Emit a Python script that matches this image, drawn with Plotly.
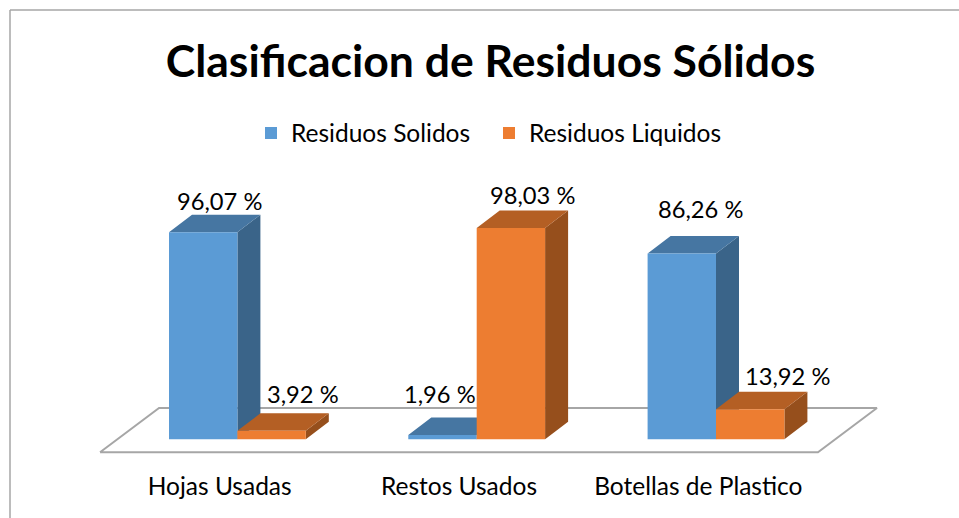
import plotly.graph_objects as go

categories = ["Hojas Usadas", "Restos Usados", "Botellas de Plastico"]
residuos_solidos = [96.07, 1.96, 86.26]
residuos_liquidos = [3.92, 98.03, 13.92]

BLUE, BLUE_TOP, BLUE_SIDE = "#5B9BD5", "#4676A2", "#3A6489"
ORANGE, ORANGE_TOP, ORANGE_SIDE = "#ED7D31", "#B45F24", "#964F1C"
GRID = "#A6A6A6"
FONT = "Lato"

W, H = 959, 518
L, R, T, B = 90, 890, 180, 460
PX_PER_CAT, PX_PER_PCT = 239.3, 2.155
C0_PX, V0_PX = 237.4, 439.3
xr = [(L - C0_PX) / PX_PER_CAT, (R - C0_PX) / PX_PER_CAT]
yr = [(V0_PX - B) / PX_PER_PCT, (V0_PX - T) / PX_PER_PCT]

BAR_W = 68.4 / PX_PER_CAT
DX, DY = 23 / PX_PER_CAT, 17.5 / PX_PER_PCT
LABEL_SHIFT = -17.7 / PX_PER_CAT
xs = list(range(len(categories)))


def box_faces(x_left, x_right, vals):
    side_x, side_y, top_x, top_y = [], [], [], []
    for a, b, v in zip(x_left, x_right, vals):
        side_x += [b, b + DX, b + DX, b, b, None]
        side_y += [v, v + DY, DY, 0, v, None]
        top_x += [a, a + DX, b + DX, b, a, None]
        top_y += [v, v + DY, v + DY, v, v, None]
    return side_x, side_y, top_x, top_y


def face(x, y, color):
    return go.Scatter(x=x, y=y, mode="lines", fill="toself", fillcolor=color,
                      line=dict(width=0, color=color), hoverinfo="skip",
                      showlegend=False, xaxis="x", yaxis="y")


fig = go.Figure()

# floor
fl_left = xs[0] - 0.5 + LABEL_SHIFT
fl_right = xs[-1] + 0.5 + LABEL_SHIFT
fl_dx, fl_back, fl_front = 59 / PX_PER_CAT, 14.5, -6.0
fig.add_trace(go.Scatter(
    x=[fl_left, fl_right, fl_right + fl_dx, fl_left + fl_dx, fl_left],
    y=[fl_front, fl_front, fl_back, fl_back, fl_front],
    mode="lines", line=dict(color=GRID, width=2), hoverinfo="skip",
    showlegend=False, xaxis="x", yaxis="y"))

bx0 = [x - BAR_W for x in xs]
bx1 = list(xs)
ox0 = list(xs)
ox1 = [x + BAR_W for x in xs]
sx, sy, tx, ty = box_faces(bx0, bx1, residuos_solidos)
fig.add_trace(face(sx, sy, BLUE_SIDE))
fig.add_trace(face(tx, ty, BLUE_TOP))
sx, sy, tx, ty = box_faces(ox0, ox1, residuos_liquidos)
fig.add_trace(face(sx, sy, ORANGE_SIDE))
fig.add_trace(face(tx, ty, ORANGE_TOP))

# front faces
fig.add_trace(go.Bar(name="Residuos Solidos", x=xs, y=residuos_solidos,
                     marker=dict(color=BLUE, line=dict(width=0)),
                     xaxis="x2", yaxis="y2"))
fig.add_trace(go.Bar(name="Residuos Liquidos", x=xs, y=residuos_liquidos,
                     marker=dict(color=ORANGE, line=dict(width=0)),
                     xaxis="x2", yaxis="y2"))

# data labels
label_dx_blue = [5, -14, 7]
label_dy_blue = [31, 41, 44]
label_dx_or = [20, 10, 26]
label_dy_or = [37, 33, 33]
ann = []


def fmt(v):
    return f"{v:.2f}".replace(".", ",") + " %"


for i, x in enumerate(xs):
    ann.append(dict(x=x - BAR_W / 2 + DX / 2, y=residuos_solidos[i], text=fmt(residuos_solidos[i]),
                    xref="x", yref="y", showarrow=False, xanchor="center", yanchor="middle",
                    xshift=label_dx_blue[i], yshift=label_dy_blue[i],
                    font=dict(family=FONT, size=23.7, color="#000000")))
    ann.append(dict(x=x + BAR_W / 2 + DX / 2, y=residuos_liquidos[i], text=fmt(residuos_liquidos[i]),
                    xref="x", yref="y", showarrow=False, xanchor="center", yanchor="middle",
                    xshift=label_dx_or[i], yshift=label_dy_or[i],
                    font=dict(family=FONT, size=23.7, color="#000000")))

hidden = dict(visible=False, fixedrange=True)
fig.update_layout(
    width=W, height=H,
    autosize=False,
    margin=dict(l=L, r=W - R, t=T, b=H - B, pad=0),
    paper_bgcolor="white", plot_bgcolor="rgba(0,0,0,0)",
    barmode="group", bargap=1 - 2 * BAR_W, bargroupgap=0,
    title=dict(text="<b>Clasificacion de Residuos Sólidos</b>",
               x=490.5 / W, xanchor="center", xref="container",
               y=1 - 61 / H, yanchor="middle", yref="container",
               font=dict(family=FONT, size=44.5, color="#000000")),
    legend=dict(orientation="h", x=(251 - L) / (R - L), xanchor="left",
                y=(B - 133) / (B - T), yanchor="middle",
                font=dict(family=FONT, size=24.5, color="#000000"),
                entrywidth=193, entrywidthmode="pixels",
                bgcolor="rgba(0,0,0,0)"),
    xaxis=dict(range=xr, showgrid=False, zeroline=False, showline=False, ticks="",
               tickmode="array", tickvals=[x + LABEL_SHIFT for x in xs], ticktext=categories,
               tickfont=dict(family=FONT, size=24.5, color="#000000"),
               ticklabelstandoff=9, fixedrange=True),
    yaxis=dict(range=yr, visible=False, fixedrange=True),
    xaxis2=dict(range=xr, overlaying="x", **hidden),
    yaxis2=dict(range=yr, overlaying="y", **hidden),
    annotations=ann,
    shapes=[
        dict(type="line", xref="paper", yref="paper",
             x0=(10 - L) / (R - L), x1=(10 - L) / (R - L), y0=(B - 10) / (B - T), y1=(B - 530) / (B - T),
             line=dict(color=GRID, width=1.5)),
        dict(type="line", xref="paper", yref="paper",
             x0=(10 - L) / (R - L), x1=(970 - L) / (R - L), y0=(B - 10) / (B - T), y1=(B - 10) / (B - T),
             line=dict(color=GRID, width=1.5)),
    ],
    showlegend=True,
)
fig.write_html("out.html", config={"displayModeBar": False},
               post_script="document.body.style.margin='0';")
